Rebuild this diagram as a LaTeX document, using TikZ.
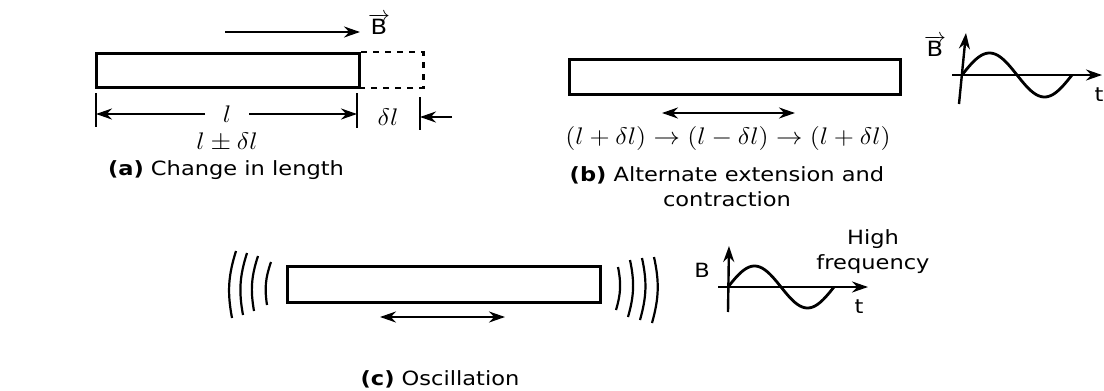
\documentclass[tikz,border=0pt]{standalone}
\usepackage{fontspec}
\usepackage{graphicx}
\setmainfont[FakeStretch=1.15]{DejaVu Sans}
\usetikzlibrary{arrows.meta}
\newcommand{\wide}[1]{\scalebox{1.1}[1]{#1}}
\tikzset{
  rod/.style={
    draw,
    line width=1.6pt,
    inner sep=0pt,
    anchor=north west,
  },
  arr/.style={
    line width=1.2pt,
    -{Stealth[length=8pt,width=5.5pt]},
  },
  twoarr/.style={
    line width=1.2pt,
    {Stealth[length=8pt,width=5.5pt]}-{Stealth[length=8pt,width=5.5pt]},
  },
  tick/.style={line width=0.8pt},
  wave/.style={line width=1.4pt},
  ring/.style={line width=1.1pt},
  caption/.style={font=\fontsize{9.8}{12.5}\selectfont, align=center},
  mathlabel/.style={font=\fontsize{11.5}{13}\selectfont, inner sep=1pt},
}

\begin{document}
\begin{tikzpicture}[x=0.5pt, y=-0.5pt]
  \useasboundingbox (0,0) rectangle (1104,391);

  % --- (a) Change in length ---
  \node[rod, minimum width=131.5pt, minimum height=17pt] (rodA) at (95,52) {};
  \draw[dashed, line width=1.3pt] (rodA.north east) -- ++(62,0) -- ++(0,36) -- ++(-62,0);
  \coordinate (fieldA0) at (225,32);
  \coordinate (fieldA1) at (360,32);
  \draw[arr] (fieldA0) -- (fieldA1);
  \node[caption, font=\fontsize{10.5}{12}\selectfont] (bA) at (379,24) {$\overrightarrow{\mbox{B}}$};

  \coordinate (ta) at (96,93);
  \coordinate (tb) at (357,93);
  \coordinate (tc) at (420,97);
  \draw[tick] (ta) -- ++(0,34);
  \draw[tick] (tb) -- ++(0,35);
  \draw[tick] (tc) -- ++(0,33);
  \node[mathlabel] (lenA) at (227,114) {\wide{$l$}};
  \draw[arr] ([xshift=-11pt]lenA.center) -- (ta |- lenA);
  \draw[arr] ([xshift=11pt]lenA.center) -- (tb |- lenA);
  \node[mathlabel] (dlA) at (388,117) {\wide{$\delta l$}};
  \draw[arr] ([xshift=16pt]tc |- dlA) -- (tc |- dlA);
  \node[mathlabel] (pmA) at (227,142) {\wide{$l \pm \delta l$}};
  \node[caption] (capA) at (226,170) {\textbf{(a)} Change in length};

  % --- (b) Alternate extension and contraction ---
  \node[rod, minimum width=165.5pt, minimum height=17.5pt] (rodB) at (568,58) {};
  \coordinate (moveB0) at (662,113);
  \coordinate (moveB1) at (795,113);
  \draw[twoarr] (moveB0) -- (moveB1);
  \node[mathlabel] (seqB) at (728,138) {\wide{$(l+\delta l)\rightarrow(l-\delta l)\rightarrow(l+\delta l)$}};
  \node[caption] (capB) at (727,187) {\textbf{(b)} Alternate extension and\\contraction};

  % wave (b)
  \coordinate (vB0) at (959,104);
  \coordinate (vB1) at (966,33);
  \coordinate (hB0) at (952,75);
  \coordinate (hB1) at (1102,75);
  \draw[arr] (vB0) -- (vB1);
  \draw[arr] (hB0) -- (hB1);
  \draw[wave, domain=0:110, samples=60] plot ({962+\x}, {75-22*sin(\x/110*360)});
  \node[caption, font=\fontsize{10.5}{12}\selectfont] (bB) at (935,46) {$\overrightarrow{\mbox{B}}$};
  \node[caption] (tB) at (1099,95) {t};

  % --- (c) Oscillation ---
  \node[rod, minimum width=156.5pt, minimum height=18pt] (rodC) at (286,265) {};
  \coordinate (moveC0) at (380,317);
  \coordinate (moveC1) at (505,317);
  \draw[twoarr] (moveC0) -- (moveC1);
  \foreach \x/\t/\b in {232/251/318, 243/253/315, 254/256/311, 267/262/305} {
    \draw[ring] (\x+4,\t) to[bend right=14] (\x,\b);
  }
  \foreach \x/\t/\b in {618/267/310, 630/260/317, 642/258/320, 654/257/323} {
    \draw[ring] (\x,\t) to[bend left=14] (\x-2,\b);
  }
  \node[caption] (capC) at (440,379) {\textbf{(c)} Oscillation};

  % wave (c)
  \coordinate (vC0) at (728,312);
  \coordinate (vC1) at (729,246);
  \coordinate (hC0) at (718,287);
  \coordinate (hC1) at (868,287);
  \draw[arr] (vC0) -- (vC1);
  \draw[arr] (hC0) -- (hC1);
  \draw[wave, domain=0:106, samples=60] plot ({728+\x}, {287-21*sin(\x/106*360)});
  \node[caption] (bC) at (702,270) {B};
  \node[caption] (tC) at (859,307) {t};
  \node[caption] (hfC) at (873,252) {High\\frequency};

\end{tikzpicture}
\end{document}
